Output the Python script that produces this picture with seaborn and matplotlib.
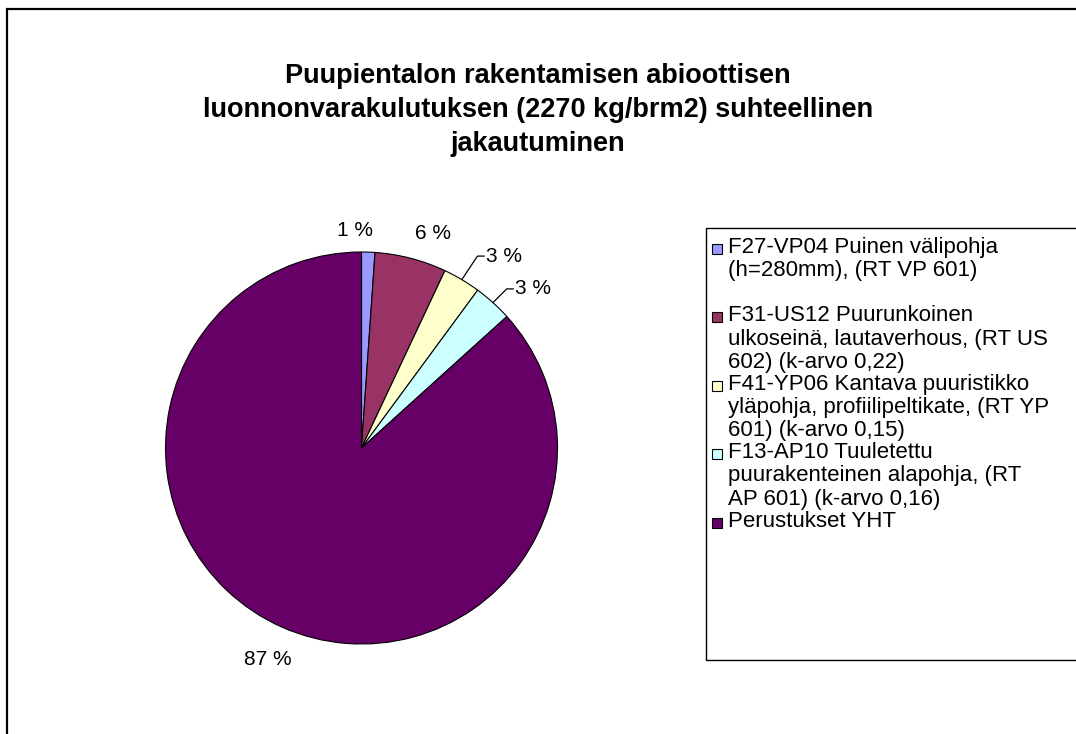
import matplotlib
matplotlib.use("Agg")
import matplotlib.pyplot as plt
import seaborn as sns
import numpy as np
from matplotlib.patches import Rectangle

# data
categories = [
    "F27-VP04 Puinen välipohja\n(h=280mm), (RT VP 601)\n ",
    "F31-US12 Puurunkoinen\nulkoseinä, lautaverhous, (RT US\n602) (k-arvo 0,22)",
    "F41-YP06 Kantava puuristikko\nyläpohja, profiilipeltikate, (RT YP\n601) (k-arvo 0,15)",
    "F13-AP10 Tuuletettu\npuurakenteinen alapohja, (RT\nAP 601) (k-arvo 0,16)",
    "Perustukset YHT",
]
shares = [1.1, 5.9, 3.1, 3.2, 86.7]
pct_labels = ["1 %", "6 %", "3 %", "3 %", "87 %"]
colors = ["#9999FF", "#993366", "#FFFFCC", "#CCFFFF", "#660066"]

title = ("Puupientalon rakentamisen abioottisen\n"
         "luonnonvarakulutuksen (2270 kg/brm2) suhteellinen\n"
         "jakautuminen")

sns.set_theme(style="white")
plt.rcParams["font.family"] = ["Liberation Sans", "DejaVu Sans"]
plt.rcParams["text.color"] = "black"

W, H = 1076, 734
fig = plt.figure(figsize=(W / 100, H / 100), dpi=100)
fig.patch.set_facecolor("white")

# outer chart border (cut at right and bottom)
fig.patches.append(Rectangle((7 / W, -0.1), 1.2, 1.1 - 9 / H, transform=fig.transFigure,
                             fill=False, edgecolor="black", linewidth=1.6))

fig.text(538 / W, 1 - 110 / H, title, ha="center", va="center", fontsize=19.5,
         fontweight="bold", linespacing=1.38)

# pie
ax = fig.add_axes([165 / W, (H - 644) / H, 393 / W, 392 / H])
wedges, _ = ax.pie(shares, colors=colors, startangle=90, counterclock=False,
                   wedgeprops=dict(edgecolor="black", linewidth=0.8))
ax.set_xlim(-1, 1)
ax.set_ylim(-1, 1)
ax.axis("off")

label_r = [1.11, 1.13, None, None, 1.18]
nudge = [(-0.07, 0.0), (0.08, 0.0), None, None, (0.0, 0.0)]
leader = [None, None, (0.08, 0.12), (0.07, 0.07)]
for i, w in enumerate(wedges):
    mid = np.deg2rad((w.theta1 + w.theta2) / 2)
    c, s = np.cos(mid), np.sin(mid)
    if label_r[i] is not None:
        ax.text(label_r[i] * c + nudge[i][0], label_r[i] * s + nudge[i][1], pct_labels[i],
                ha="center", va="center", fontsize=15, clip_on=False)
    else:
        dx, dy = leader[i]
        x0, y0 = c, s
        x1, y1 = x0 + dx, y0 + dy
        x2 = x1 + 0.035
        ax.plot([x0, x1, x2], [y0, y1, y1], color="black", lw=0.9, clip_on=False)
        ax.text(x2 + 0.01, y1, pct_labels[i], ha="left", va="center", fontsize=15,
                clip_on=False)

# legend box
fig.patches.append(Rectangle((706 / W, (H - 660) / H), 0.5, (660 - 228) / H,
                             transform=fig.transFigure, fill=False, edgecolor="black",
                             linewidth=1.0))
line_h = 22.4
y_top = 237
for lab, col in zip(categories, colors):
    fig.patches.append(Rectangle((712 / W, 1 - (y_top + 17) / H), 10 / W, 10 / H,
                                 transform=fig.transFigure, facecolor=col,
                                 edgecolor="black", linewidth=0.8))
    fig.text(728 / W, 1 - y_top / H, lab, ha="left", va="top", fontsize=16,
             linespacing=1.14)
    y_top += (lab.count("\n") + 1) * line_h + 1.2

fig.savefig("out.png", dpi=100, facecolor="white")
